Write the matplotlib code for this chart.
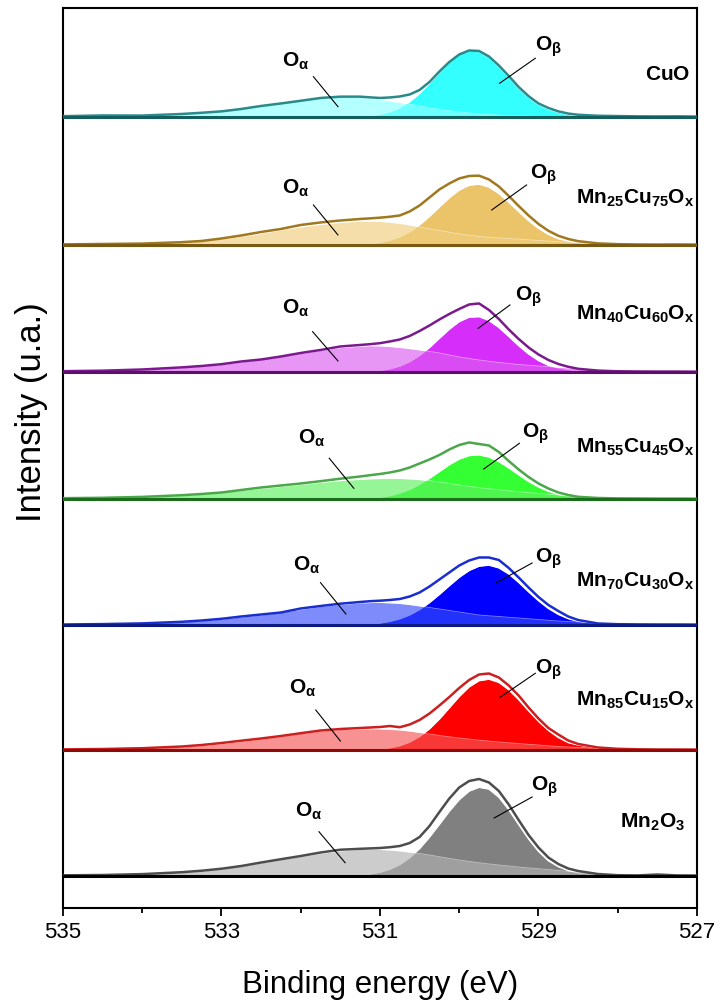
import matplotlib
matplotlib.use('Agg')
import matplotlib.pyplot as plt
import numpy as np

plt.rcParams['font.family'] = ['Liberation Sans', 'DejaVu Sans']
plt.rcParams['mathtext.fontset'] = 'custom'
plt.rcParams['mathtext.rm'] = 'Liberation Sans'
plt.rcParams['mathtext.bf'] = 'Liberation Sans:bold'
plt.rcParams['mathtext.it'] = 'Liberation Sans:italic'

# binding energy grid (eV), finer around the O 1s peaks
be = [535.0, 534.5, 534.0, 533.5, 533.25, 533.0, 532.75, 532.5, 532.25, 532.0,
      531.75, 531.5, 531.25, 531.125, 531.0, 530.875, 530.75, 530.625, 530.5, 530.375,
      530.25, 530.125, 530.0, 529.875, 529.75, 529.625, 529.5, 529.375, 529.25, 529.125,
      529.0, 528.875, 528.75, 528.625, 528.5, 528.25, 528.0, 527.75, 527.5, 527.25, 527.0]

samples = ['CuO', 'Mn25Cu75Ox', 'Mn40Cu60Ox', 'Mn55Cu45Ox', 'Mn70Cu30Ox', 'Mn85Cu15Ox', 'Mn2O3']
sample_labels = [r'$\mathbf{CuO}$', r'$\mathbf{Mn_{25}Cu_{75}O_x}$', r'$\mathbf{Mn_{40}Cu_{60}O_x}$',
                 r'$\mathbf{Mn_{55}Cu_{45}O_x}$', r'$\mathbf{Mn_{70}Cu_{30}O_x}$',
                 r'$\mathbf{Mn_{85}Cu_{15}O_x}$', r'$\mathbf{Mn_2O_3}$']

# O-alpha component (intensity above baseline, a.u.)
o_alpha_cuo = [0.5, 0.8, 1.4, 2.8, 4.0, 6.0, 8.5, 11.5, 14.5, 17.0, 19.0, 19.8, 19.5, 18.7, 17.5, 16.1,
               14.5, 12.8, 11.0, 9.2, 7.5, 6.2, 5.0, 4.0, 3.0, 2.4, 1.8, 1.4, 1.0, 0.8, 0.6, 0.45,
               0.3, 0.25, 0.2, 0.1, 0.1, 0, 0, 0, 0]
o_alpha_mn25 = [0.5, 0.8, 1.3, 2.6, 4.0, 6.0, 8.5, 11.5, 15.0, 18.0, 20.5, 22.5, 23.8, 23.8, 23.5, 22.7,
                21.5, 19.9, 18.0, 16.2, 14.5, 12.7, 11.0, 9.7, 8.5, 7.7, 7.0, 6.4, 5.8, 5.1, 4.5, 3.9,
                3.3, 2.7, 2.2, 1.3, 0.7, 0.4, 0.2, 0.1, 0]
o_alpha_mn40 = [0.7, 1.2, 2.2, 4.2, 5.8, 7.5, 10.0, 12.5, 15.5, 18.5, 21.5, 24.3, 25.8, 26.2, 26.0, 25.4,
                24.5, 23.3, 22.0, 20.6, 19.0, 17.0, 15.0, 13.5, 12.0, 10.7, 9.5, 8.5, 7.5, 6.7, 6.0, 5.3,
                4.7, 4.1, 3.5, 2.5, 1.7, 1.1, 0.7, 0.4, 0.2]
o_alpha_mn55 = [0.6, 1.0, 1.9, 3.5, 4.8, 6.5, 8.5, 10.5, 12.5, 14.5, 16.5, 18.3, 19.6, 20.1, 20.4, 20.6,
                20.5, 20.0, 19.3, 18.3, 17.0, 15.6, 14.0, 12.6, 11.3, 10.2, 9.2, 8.2, 7.3, 6.4, 5.5, 4.7,
                4.0, 3.4, 2.9, 2.0, 1.3, 0.8, 0.5, 0.3, 0.2]
o_alpha_mn70 = [0.5, 0.8, 1.4, 3.0, 4.3, 6.0, 8.0, 10.0, 12.5, 15.5, 18.5, 20.5, 22.0, 22.4, 22.5, 22.1,
                21.5, 20.4, 19.0, 17.5, 16.0, 14.5, 13.0, 11.5, 10.0, 9.2, 8.5, 7.7, 7.0, 6.2, 5.5, 4.7,
                4.0, 3.5, 3.0, 2.0, 1.3, 0.8, 0.5, 0.3, 0.2]
o_alpha_mn85 = [0.5, 0.8, 1.5, 3.0, 4.5, 6.3, 8.5, 11.0, 13.5, 16.5, 19.0, 20.5, 21.0, 21.1, 21.0, 20.6,
                20.0, 18.9, 17.5, 16.0, 14.5, 13.2, 12.0, 10.9, 9.8, 8.9, 8.0, 7.2, 6.5, 5.7, 5.0, 4.2,
                3.5, 3.0, 2.5, 1.7, 1.1, 0.7, 0.4, 0.2, 0.1]
o_alpha_mn2o3 = [0.6, 0.9, 1.6, 3.3, 4.8, 7.0, 9.8, 13.0, 16.3, 19.5, 22.5, 25.0, 26.5, 26.7, 26.5, 25.9,
                 25.0, 23.8, 22.5, 21.0, 19.3, 17.6, 16.0, 14.6, 13.3, 12.1, 11.0, 10.0, 9.0, 8.1, 7.3, 6.4,
                 5.5, 4.7, 4.0, 2.8, 1.9, 1.2, 0.8, 0.5, 0.3]

# O-beta component
o_beta_cuo = [0, 0, 0, 0, 0, 0, 0, 0, 0, 0, 0.1, 0.3, 0.6, 1.3, 2.7, 5.2,
              9.3, 15.4, 23.7, 33.8, 44.8, 55.0, 62.8, 66.5, 65.4, 59.8, 50.6, 39.9, 29.1, 19.8, 12.5, 8.0,
              4.8, 2.6, 1.5, 0.7, 0.4, 0.2, 0.1, 0, 0]
o_beta_mn25 = [0, 0, 0, 0, 0, 0, 0, 0, 0, 0, 0.1, 0.3, 0.6, 1.3, 2.6, 4.7,
               8.2, 13.3, 20.2, 28.7, 38.1, 47.3, 55.0, 59.8, 60.9, 58.0, 51.6, 42.9, 33.5, 24.4, 16.7, 10.6,
               6.3, 4.0, 2.5, 1.2, 0.6, 0.3, 0.2, 0.1, 0]
o_beta_mn40 = [0, 0, 0, 0, 0, 0, 0, 0, 0, 0, 0.1, 0.2, 0.3, 0.7, 1.6, 3.2,
               6.0, 10.4, 16.6, 24.6, 33.8, 42.9, 50.5, 54.9, 55.4, 51.6, 44.6, 35.7, 26.4, 18.1, 11.5, 6.7,
               4.2, 2.5, 1.5, 0.8, 0.4, 0.2, 0.1, 0, 0]
o_beta_mn55 = [0, 0, 0, 0, 0, 0, 0, 0, 0, 0, 0.1, 0.2, 0.4, 0.9, 1.9, 3.4,
               6.0, 9.7, 14.7, 20.8, 27.6, 34.4, 40.0, 43.5, 44.2, 42.1, 37.5, 31.2, 24.3, 17.7, 12.1, 7.7,
               4.6, 3.0, 1.8, 0.9, 0.4, 0.2, 0.1, 0, 0]
o_beta_mn70 = [0, 0, 0, 0, 0, 0, 0, 0, 0, 0, 0.1, 0.2, 0.5, 1.0, 2.0, 3.7,
               6.3, 10.2, 15.6, 22.5, 30.7, 39.4, 47.8, 54.6, 58.9, 59.9, 57.2, 51.1, 42.7, 33.3, 24.4, 16.6,
               10.7, 6.4, 3.8, 1.5, 0.6, 0.3, 0.1, 0, 0]
o_beta_mn85 = [0, 0, 0, 0, 0, 0, 0, 0, 0, 0, 0, 0.1, 0.2, 0.5, 1.1, 2.3,
               4.4, 8.0, 13.6, 21.3, 31.1, 42.3, 53.6, 63.2, 69.4, 70.9, 67.7, 60.4, 50.5, 39.4, 28.8, 19.7,
               12.6, 7.5, 5.0, 2.0, 0.8, 0.4, 0.2, 0.1, 0]
o_beta_mn2o3 = [0, 0, 0, 0, 0, 0, 0, 0, 0, 0, 0.2, 0.5, 1.0, 2.0, 3.8, 6.9,
                11.5, 18.4, 27.6, 39.0, 51.8, 64.9, 76.5, 85.0, 88.8, 87.0, 78.9, 66.4, 51.6, 37.1, 24.8, 15.3,
                9.5, 5.5, 3.2, 1.3, 0.6, 0.3, 0.2, 0.1, 0]

# measured envelope
env_cuo = [0.8, 1.5, 1.4, 3.0, 4.2, 5.6, 8.0, 11.0, 13.5, 16.2, 19.0, 20.3, 20.3, 19.6, 19.0, 19.5,
           20.5, 22.5, 27.0, 35.0, 45.5, 55.0, 62.5, 66.5, 66.0, 60.5, 51.5, 41.0, 30.0, 20.8, 13.5, 9.0,
           5.6, 3.4, 2.2, 1.2, 0.9, 0.6, 0.5, 0.6, 0.4]
env_mn25 = [0.6, 1.0, 1.4, 2.8, 4.0, 6.5, 9.5, 13.0, 16.0, 20.0, 22.5, 24.5, 26.0, 26.6, 27.3, 28.2,
            29.5, 33.5, 39.5, 47.5, 55.5, 61.5, 66.5, 69.0, 69.3, 65.5, 58.5, 49.0, 39.0, 29.5, 21.0, 14.2,
            9.2, 6.0, 3.8, 1.6, 0.8, 0.5, 0.4, 0.5, 0.4]
env_mn40 = [0.8, 1.3, 2.5, 4.6, 6.0, 7.8, 10.5, 12.5, 15.5, 19.0, 22.0, 25.5, 27.0, 27.8, 28.8, 30.5,
            32.5, 36.0, 41.0, 46.5, 52.5, 58.0, 63.0, 67.5, 68.5, 62.0, 53.0, 42.5, 33.0, 24.5, 17.5, 12.0,
            8.0, 5.2, 3.2, 1.4, 0.7, 0.5, 0.4, 0.4, 0.3]
env_mn55 = [0.8, 1.2, 2.1, 3.8, 5.0, 6.5, 9.0, 11.5, 13.5, 15.5, 17.8, 20.3, 22.5, 23.8, 25.0, 26.5,
            28.5, 31.5, 35.5, 39.5, 44.0, 49.5, 54.0, 56.5, 55.0, 53.5, 47.0, 38.0, 29.5, 22.0, 15.5, 10.5,
            6.5, 4.0, 2.2, 1.0, 0.6, 0.5, 0.4, 0.4, 0.3]
env_mn70 = [0.5, 0.9, 1.6, 3.2, 4.5, 6.2, 8.5, 10.5, 12.5, 16.5, 19.0, 21.3, 23.0, 23.8, 24.3, 25.0,
            26.0, 28.5, 32.5, 38.5, 45.5, 52.5, 59.5, 64.5, 67.5, 67.5, 65.0, 57.0, 47.5, 37.5, 28.0, 20.0,
            14.0, 8.5, 5.0, 1.5, 0.8, 0.6, 0.5, 0.5, 0.4]
env_mn85 = [0.6, 1.0, 1.8, 3.5, 5.0, 7.0, 9.3, 11.5, 14.0, 16.8, 19.5, 21.0, 22.0, 22.5, 23.0, 24.0,
            22.8, 25.5, 30.0, 36.5, 44.5, 53.0, 62.0, 70.0, 75.5, 76.5, 72.5, 64.5, 54.5, 42.5, 31.5, 22.0,
            15.5, 9.5, 6.0, 2.5, 1.2, 0.7, 0.5, 0.5, 0.4]
env_mn2o3 = [0.7, 1.0, 1.9, 3.8, 5.3, 7.3, 10.0, 13.5, 16.8, 20.0, 23.5, 26.3, 27.2, 27.6, 28.0, 28.8,
             30.0, 33.0, 39.0, 50.0, 64.0, 77.5, 88.5, 95.0, 97.0, 93.5, 85.0, 71.5, 56.0, 41.0, 28.5, 18.5,
             12.0, 7.5, 5.0, 2.0, 0.8, 0.6, 1.5, 0.6, 0.5]

o_alpha = [o_alpha_cuo, o_alpha_mn25, o_alpha_mn40, o_alpha_mn55, o_alpha_mn70, o_alpha_mn85, o_alpha_mn2o3]
o_beta = [o_beta_cuo, o_beta_mn25, o_beta_mn40, o_beta_mn55, o_beta_mn70, o_beta_mn85, o_beta_mn2o3]
envelope = [env_cuo, env_mn25, env_mn40, env_mn55, env_mn70, env_mn85, env_mn2o3]

# layout / style
offsets = [791, 663, 536, 409, 283, 158, 32]
beta_cols = ['#33FFFF', '#EBC46A', '#D62DFA', '#33FF33', '#0000FF', '#FF0000', '#808080']
alpha_cols = ['#8CFFFF', '#F0CD7D', '#DC5EF0', '#5EF05E', '#374EF8', '#F55656', '#B1B1B1']
env_cols = ['#2A8A8A', '#A0781E', '#7B1A8C', '#4AA84A', '#1A2ED0', '#CC1F1F', '#4D4D4D']
base_cols = ['#155E5E', '#7A5A12', '#5C0F6B', '#1A6E1A', '#0C1A80', '#8B0A0A', '#000000']

label_pos = [(527.09, 833), (527.03, 710), (527.03, 594), (527.03, 461),
             (527.03, 327), (527.03, 208), (527.15, 86)]
# (O_alpha text, O_alpha line, O_beta text, O_beta line)
ann = [
    ((532.07, 846.3), (531.84, 831.3, 531.53, 801.3), (528.88, 861.3), (529.04, 849.7, 529.49, 824.7)),
    ((532.07, 719.7), (531.84, 703.0, 531.53, 673.0), (528.94, 733.0), (529.15, 723.0, 529.59, 698.0)),
    ((532.07, 599.7), (531.85, 576.3, 531.53, 547.0), (529.13, 611.3), (529.36, 603.0, 529.76, 579.7)),
    ((531.86, 469.7), (531.64, 449.7, 531.33, 419.7), (529.04, 474.7), (529.24, 464.7, 529.69, 439.0)),
    ((531.92, 343.0), (531.75, 325.3, 531.43, 294.0), (528.88, 349.7), (529.08, 345.0, 529.53, 325.3)),
    ((531.97, 219.7), (531.81, 198.0, 531.50, 167.0), (528.88, 238.0), (529.04, 234.7, 529.49, 210.3)),
    ((531.90, 96.3), (531.77, 76.3, 531.44, 45.3), (528.92, 121.3), (529.08, 111.0, 529.56, 90.0)),
]

fig = plt.figure(figsize=(7.23, 10.07), dpi=100)
ax = fig.add_axes([0.0871, 0.0983, 0.8769, 0.8938])

x = np.array(be)
for i, name in enumerate(samples):
    off = offsets[i]
    oa = np.array(o_alpha[i]) + off
    ob = np.array(o_beta[i]) + off
    env = np.array(envelope[i]) + off

    ax.fill_between(x, off, ob, color=beta_cols[i], lw=0, zorder=2)
    ax.plot(x, ob, color='white', lw=1.1, zorder=2.1)
    ax.fill_between(x, off, oa, color=alpha_cols[i], alpha=0.65, lw=0, zorder=3)
    ax.plot(x, oa, color='white', lw=0.6, alpha=0.5, zorder=3.1)
    ax.plot(x, env, color=env_cols[i], lw=1.8, zorder=4, solid_joinstyle='round')
    ax.plot([be[0], be[-1]], [off, off], color=base_cols[i], lw=2.2, zorder=5)

    (tax, tay), la, (tbx, tby), lb = ann[i]
    ax.text(tax, tay, r'$\mathbf{O_{α}}$', fontsize=15, ha='center', va='center', zorder=6)
    ax.plot([la[0], la[2]], [la[1], la[3]], color='black', lw=0.8, zorder=6)
    ax.text(tbx, tby, r'$\mathbf{O_{β}}$', fontsize=15, ha='center', va='center', zorder=6)
    ax.plot([lb[0], lb[2]], [lb[1], lb[3]], color='black', lw=0.8, zorder=6)

    ax.text(label_pos[i][0], label_pos[i][1], sample_labels[i], fontsize=15,
            ha='right', va='center', zorder=6)

ax.set_xlim(535, 527)
ax.set_ylim(0, 900)
ax.set_xticks([535, 533, 531, 529, 527])
ax.set_xticks([534, 532, 530, 528], minor=True)
ax.set_yticks([])
ax.tick_params(axis='x', which='major', direction='out', length=6, width=1.3, labelsize=16, pad=4)
ax.tick_params(axis='x', which='minor', direction='out', length=3.5, width=1.3)
for s in ax.spines.values():
    s.set_linewidth(1.5)

ax.set_xlabel('Binding energy (eV)', fontsize=22.5, va='center')
ax.xaxis.set_label_coords(0.5, -0.0856)
ax.set_ylabel('Intensity (u.a.)', fontsize=25, va='center')
ax.yaxis.set_label_coords(-0.049, 0.551)

fig.savefig('out.png', dpi=100)
